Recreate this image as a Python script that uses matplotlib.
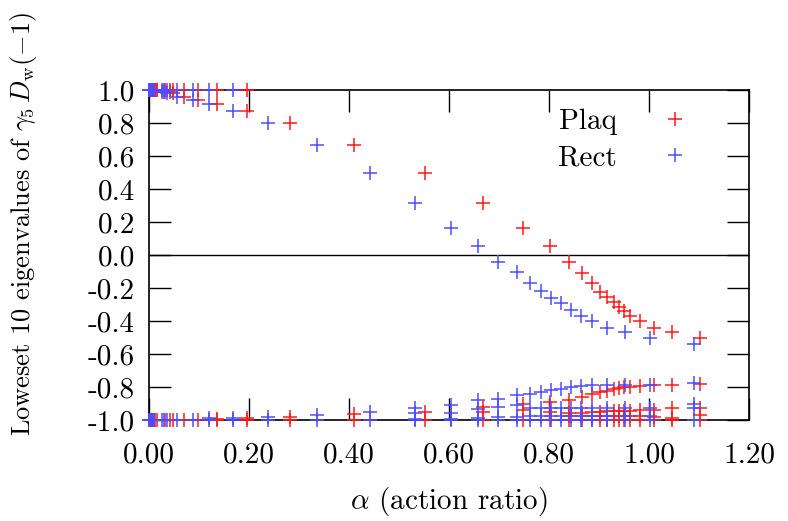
import numpy as np
import matplotlib
matplotlib.use("Agg")
import matplotlib.pyplot as plt

plt.rcParams['font.family'] = ['cmr10', 'DejaVu Serif']
plt.rcParams['mathtext.fontset'] = 'cm'
plt.rcParams['axes.unicode_minus'] = False

nan = np.nan

# Plaq (red): action ratio and the eigenvalues
plaq_alpha = [0.0, 0.002, 0.004, 0.006, 0.008, 0.01, 0.012, 0.015,
              0.032, 0.041, 0.048, 0.069, 0.097, 0.136, 0.195,
              0.282, 0.41, 0.552, 0.668, 0.748, 0.802,
              0.839, 0.865, 0.885, 0.902, 0.915, 0.929, 0.939, 0.949,
              0.962, 0.982, 1.009, 1.045, 1.102]
plaq_top = [1.0, 1.0, 1.0, 1.0, 1.0, 1.0, 1.0, 0.998,
            0.99, 0.985, 0.98, 0.96, 0.94, 0.915, 0.87,
            0.80, 0.667, 0.497, 0.315, 0.164, 0.055,
            -0.04, -0.11, -0.17, -0.222, -0.253, -0.283, -0.313, -0.337,
            -0.37, -0.40, -0.44, -0.465, -0.505]
plaq_plus1 = [1.0] * 15 + [nan] * 19
plaq_minus1 = [-1.0] * 34
plaq_band_a = [nan] * 13 + [-0.995, -0.99,
               -0.98, -0.965, -0.95, -0.923, -0.90, -0.89,
               -0.88, -0.86, -0.84, -0.83, -0.822, -0.814, -0.808, -0.802,
               -0.798, -0.792, -0.788, -0.785, -0.78]
plaq_band_b = [nan] * 18 + [-0.95, -0.94, -0.95,
               -0.955, -0.955, -0.95, -0.95, -0.948, -0.946, -0.945, -0.944,
               -0.943, -0.942, -0.94, -0.93, -0.93]
plaq_band_c = [nan] * 21 + [-0.975, -0.975, -0.975, -0.975, -0.975, -0.975,
               -0.975, -0.975, -0.975, -0.975, -0.98, -0.99, -0.97]

# Rect (blue)
rect_alpha = [0.0, 0.001, 0.002, 0.003, 0.004, 0.006, 0.008, 0.01,
              0.025, 0.03, 0.036, 0.055, 0.087, 0.12, 0.167,
              0.238, 0.336, 0.442, 0.532, 0.604, 0.658,
              0.698, 0.736, 0.762, 0.783, 0.803, 0.823, 0.843, 0.863,
              0.885, 0.915, 0.952, 1.002, 1.089]
rect_top = [1.0, 1.0, 1.0, 1.0, 1.0, 1.0, 1.0, 0.998,
            0.99, 0.985, 0.98, 0.96, 0.94, 0.915, 0.87,
            0.80, 0.667, 0.497, 0.315, 0.164, 0.055,
            -0.04, -0.10, -0.17, -0.218, -0.263, -0.293, -0.333, -0.37,
            -0.40, -0.44, -0.465, -0.505, -0.54]
rect_plus1 = [1.0] * 15 + [nan] * 19
rect_minus1 = [-1.0] * 34
rect_band_a = [nan] * 13 + [-0.99, -0.985,
               -0.98, -0.97, -0.953, -0.93, -0.91, -0.88,
               -0.87, -0.85, -0.84, -0.83, -0.82, -0.81, -0.80, -0.795,
               -0.785, -0.785, -0.79, -0.785, -0.775]
rect_band_b = [nan] * 18 + [-0.96, -0.956, -0.935,
               -0.92, -0.91, -0.93, -0.93, -0.93, -0.93, -0.93, -0.93,
               -0.93, -0.93, -0.93, -0.93, -0.905]
rect_band_c = [nan] * 18 + [-0.995, -0.996, -0.99,
               -0.98, -0.98, -0.976, -0.976, -0.976, -0.976, -0.976, -0.976,
               -0.976, -0.976, -0.976, -0.976, -0.93]

xticks = [0.0, 0.2, 0.4, 0.6, 0.8, 1.0, 1.2]
yticks = [1.0, 0.8, 0.6, 0.4, 0.2, 0.0, -0.2, -0.4, -0.6, -0.8, -1.0]

fig = plt.figure(figsize=(7.88, 5.21), dpi=100)
ax = fig.add_axes([149 / 788, 1 - 420 / 521, 600 / 788, 330 / 521])

ax.axhline(0.0, color='black', lw=1.0, zorder=1)

series = [
    ('Plaq', '#ff1a1a', plaq_alpha,
     [plaq_top, plaq_plus1, plaq_minus1, plaq_band_a, plaq_band_b, plaq_band_c]),
    ('Rect', '#4d4dff', rect_alpha,
     [rect_top, rect_plus1, rect_minus1, rect_band_a, rect_band_b, rect_band_c]),
]
handles = []
for name, color, alpha, branches in series:
    xs = np.tile(alpha, len(branches))
    ys = np.concatenate([np.asarray(b, dtype=float) for b in branches])
    keep = ~np.isnan(ys)
    h, = ax.plot(xs[keep], ys[keep], '+', color=color, ms=10, mew=1.1,
                 linestyle='none', clip_on=False, label=name, zorder=3)
    handles.append(h)

ax.set_xlim(0.0, 1.2)
ax.set_ylim(-1.0, 1.0)
ax.set_xticks(xticks)
ax.set_xticklabels(['%.2f' % v for v in xticks])
ax.set_yticks(yticks)
ax.set_yticklabels(['%.1f' % v for v in yticks])
ax.tick_params(direction='in', length=16, width=1.0, top=True, right=True,
               labelsize=21)
ax.tick_params(axis='x', pad=16)
ax.tick_params(axis='y', pad=10)
for s in ax.spines.values():
    s.set_linewidth(1.2)

ax.set_xlabel(r'$\alpha$ (action ratio)', fontsize=21, labelpad=12)
ax.set_ylabel(r'Loweset 10 eigenvalues of $\gamma_5\, D_{\rm w}(-1)$',
              fontsize=19)
ax.yaxis.set_label_coords(-0.183, 0.595)

ax.legend(handles=handles, loc='upper right', bbox_to_anchor=(0.945, 0.978),
          markerfirst=False, frameon=False, fontsize=21, handletextpad=1.0,
          labelspacing=0.32, borderaxespad=0)

fig.savefig('out.png', dpi=100)
